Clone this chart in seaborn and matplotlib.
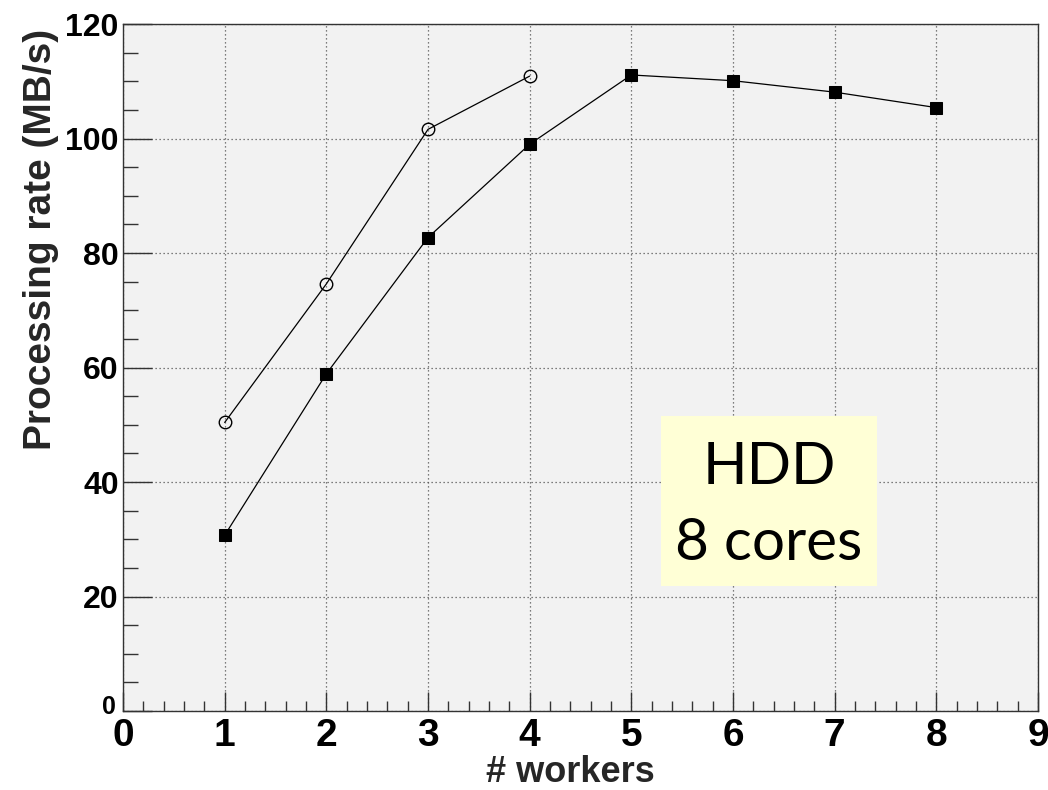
import matplotlib
matplotlib.use("Agg")
import matplotlib.pyplot as plt
import matplotlib.transforms as mtransforms
import seaborn as sns
import pandas as pd
from matplotlib.patches import Rectangle
from matplotlib.ticker import MultipleLocator

# Processing rate vs number of workers
workers_open = [1, 2, 3, 4]
rate_open = [50.4, 74.6, 101.6, 110.9]

workers_filled = [1, 2, 3, 4, 5, 6, 7, 8]
rate_filled = [30.7, 58.9, 82.7, 99.0, 111.1, 110.1, 108.1, 105.4]

x_ticks = [0, 1, 2, 3, 4, 5, 6, 7, 8, 9]
y_ticks = [0, 20, 40, 60, 80, 100, 120]

sns.set_theme(style="white")
plt.rcParams["font.family"] = ["Liberation Sans", "DejaVu Sans"]

fig = plt.figure(figsize=(10.48, 7.90), dpi=100)
ax = fig.add_axes([0.1174, 0.1, 0.873, 0.8696])
ax.set_facecolor("#f2f2f2")

df_open = pd.DataFrame({"workers": workers_open, "rate": rate_open})
df_filled = pd.DataFrame({"workers": workers_filled, "rate": rate_filled})

sns.lineplot(data=df_open, x="workers", y="rate", ax=ax, color="black",
             linewidth=0.9, marker="o", markersize=9, markerfacecolor="none",
             markeredgecolor="black", markeredgewidth=1.0, zorder=4)
sns.lineplot(data=df_filled, x="workers", y="rate", ax=ax, color="black",
             linewidth=0.9, marker="s", markersize=8, markerfacecolor="black",
             markeredgecolor="black", zorder=4)

ax.set_xlim(0, 9)
ax.set_ylim(0, 120)
ax.set_xticks(x_ticks)
ax.set_yticks(y_ticks)
ax.xaxis.set_minor_locator(MultipleLocator(0.2))
ax.yaxis.set_minor_locator(MultipleLocator(5))

ax.grid(True, which="major", color="#555555", linestyle=(0, (1, 2.2)), linewidth=0.9)
ax.set_axisbelow(True)

for sp in ax.spines.values():
    sp.set_visible(True)
    sp.set_color("#333333")
    sp.set_linewidth(1.0)

ax.tick_params(axis="both", which="both", direction="in", colors="#333333",
               width=1.0, bottom=True, left=True, top=False, right=False)
ax.tick_params(axis="x", which="major", length=14, labelsize=28, pad=5, labelcolor="black")
ax.tick_params(axis="x", which="minor", length=7)
ax.tick_params(axis="y", which="major", length=21, labelsize=23, pad=3, labelcolor="black")
ax.tick_params(axis="y", which="minor", length=11)

for lab in ax.get_xticklabels() + ax.get_yticklabels():
    lab.set_fontweight("bold")

# the y-axis zero sits just above the x-axis zero
y_zero = ax.get_yticklabels()[0]
y_zero.set_fontsize(18)
y_zero.set_transform(y_zero.get_transform() +
                     mtransforms.ScaledTranslation(-2 / 72, 5 / 72, fig.dpi_scale_trans))

ax.set_xlabel("# workers", fontsize=26, fontweight="bold")
ax.set_ylabel("Processing rate (MB/s)", fontsize=28, fontweight="bold")
ax.xaxis.set_label_coords(0.489, -0.064)
ax.yaxis.set_label_coords(-0.090, 0.686)
ax.yaxis.label.set_va("center")

# Annotation box
ax.add_patch(Rectangle((5.29, 21.8), 2.13, 29.7, facecolor="#ffffd6",
                       edgecolor="none", zorder=5))
ax.text(6.355, 42.5, "HDD", ha="center", va="center", fontsize=42,
        family=["Lato", "DejaVu Sans"], color="black", zorder=6)
ax.text(6.355, 29.3, "8 cores", ha="center", va="center", fontsize=42,
        family=["Lato", "DejaVu Sans"], color="black", zorder=6)

fig.savefig("out.png", dpi=100, facecolor="white")
